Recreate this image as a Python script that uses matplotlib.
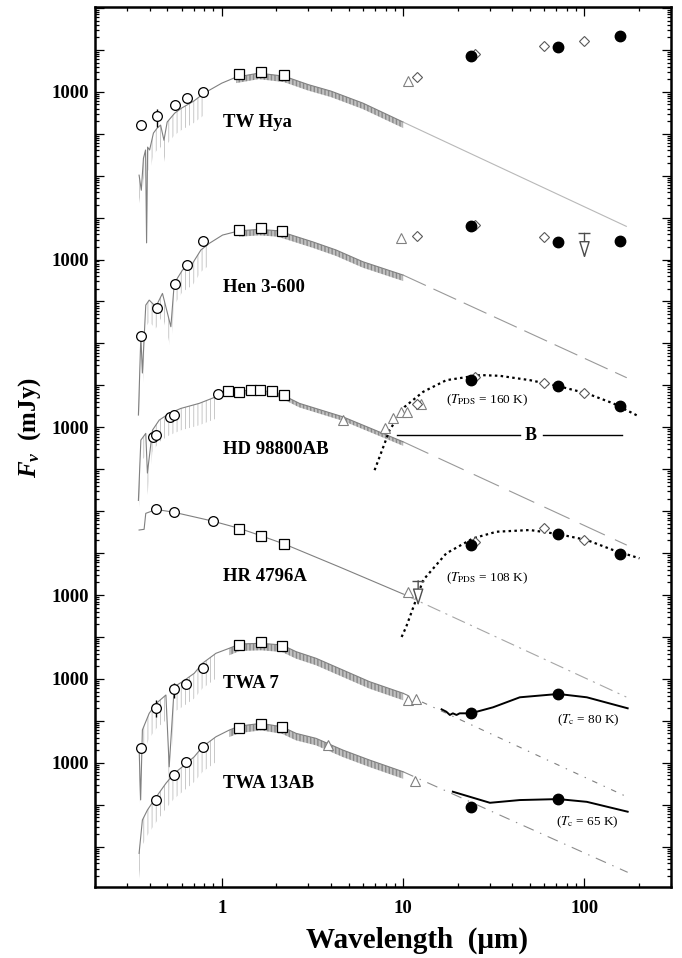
import numpy as np
import matplotlib as mpl
import matplotlib.pyplot as plt
from matplotlib.ticker import LogLocator, FuncFormatter, NullFormatter

mpl.rcParams.update({
    'font.family': 'Liberation Serif',
    'mathtext.fontset': 'custom',
    'mathtext.it': 'Liberation Serif:italic:bold',
    'mathtext.rm': 'Liberation Serif:bold',
    'mathtext.bf': 'Liberation Serif:bold',
    'lines.scale_dashes': False,
    'hatch.linewidth': 0.6,
})

### data (mJy, before the vertical offsets)
names = ['TW Hya', 'Hen 3-600', 'HD 98800AB', 'HR 4796A', 'TWA 7', 'TWA 13AB']
scale = [1, 1e-4, 1e-8, 1e-12, 1e-14, 1e-16]

# TW Hya
tw_spec_lam = [0.35, 0.36, 0.37, 0.38, 0.385, 0.39, 0.40, 0.42, 0.44, 0.46, 0.48, 0.50, 0.55, 0.6, 0.7, 0.8,
               1.0, 1.2, 1.6, 2.2, 3.0, 4.0, 6.0, 10.0, 170.0]
tw_spec_mjy = [10.3, 4.5, 26, 41, 0.25, 48, 41, 104, 136, 161, 70, 190, 310, 408, 600, 931,
               1610, 2240, 2790, 2370, 1485, 1040, 538, 190, 0.62]
tw_opt_lam = [0.36, 0.44, 0.55, 0.64, 0.79]
tw_opt_mjy = [158, 259, 474, 719, 984]
tw_nir_lam = [1.25, 1.65, 2.2]
tw_nir_mjy = [2600, 3000, 2500]
tw_tri_lam = [10.6]
tw_tri_mjy = [1800]
tw_dia_lam = [12, 25, 60, 100]
tw_dia_mjy = [2200, 7900, 12500, 15900]
tw_dot_lam = [23.6, 71.7, 156]
tw_dot_mjy = [7100, 11460, 21300]

# Hen 3-600
hen_spec_lam = [0.347, 0.358, 0.365, 0.381, 0.398, 0.433, 0.471, 0.524, 0.547, 0.607, 0.690, 0.767, 0.853,
                1.01, 1.25, 1.61, 2.04, 3.17, 4.27, 6.0, 10.0, 171]
hen_spec_mjy = [0.196, 15, 1.97, 82, 108, 75, 156, 25, 271, 562, 811, 1690, 2430,
                3840, 4860, 5250, 4860, 2650, 1690, 887, 427, 1.52]
hen_opt_lam = [0.36, 0.44, 0.55, 0.64, 0.79]
hen_opt_mjy = [15, 68.5, 256, 740, 2716]
hen_nir_lam = [1.25, 1.65, 2.15]
hen_nir_mjy = [5140, 5730, 4700]
hen_tri_lam = [9.7]
hen_tri_mjy = [3200]
hen_dia_lam = [12, 25, 60]
hen_dia_mjy = [3630, 6530, 3380]
hen_dot_lam = [23.6, 71.7, 156]
hen_dot_mjy = [6190, 2570, 2760]

# HD 98800AB
hd_spec_lam = [0.347, 0.358, 0.381, 0.389, 0.415, 0.452, 0.513, 0.595, 0.751, 0.929, 1.147, 1.545, 2.08,
               2.68, 4.65, 10.0, 171]
hd_spec_mjy = [18, 495, 716, 81, 857, 1485, 2140, 2820, 3720, 5340, 7020, 8010, 6430,
               3720, 1780, 451, 1.55]
hd_opt_lam = [0.42, 0.436, 0.518, 0.544, 0.948]
hd_opt_mjy = [593, 662, 1780, 1950, 6100]
hd_nir_lam = [1.077, 1.249, 1.443, 1.626, 1.894, 2.195]
hd_nir_mjy = [7290, 6790, 7590, 7710, 7180, 5770]
hd_tri_lam = [4.65, 7.9, 8.8, 9.7, 10.5, 12.6]
hd_tri_mjy = [1485, 942, 1690, 2340, 2340, 3570]
hd_dia_lam = [12, 25, 60, 100]
hd_dia_mjy = [3520, 15500, 11100, 6650]
hd_dot_lam = [23.6, 71.7, 156]
hd_dot_mjy = [13300, 9600, 3200]
hd_pds_lam = [6.96, 7.42, 8.42, 10.2, 12.9, 17.3, 26.5, 34.1, 50, 71.7, 103, 144, 198]
hd_pds_mjy = [95, 198, 858, 3080, 7020, 13300, 17600, 16900, 13300, 9600, 6430, 3720, 1850]

# HR 4796A
hr_spec_lam = [0.350, 0.373, 0.381, 0.436, 0.547, 0.889, 1.249, 1.647, 2.215, 4.46, 10.0, 170]
hr_spec_mjy = [35500, 36900, 88700, 110000, 93700, 58100, 38900, 25900, 16400, 4660, 1057, 3.7]
hr_opt_lam = [0.436, 0.547, 0.89]
hr_opt_mjy = [110000, 93700, 58100]
hr_nir_lam = [1.25, 1.65, 2.2]
hr_nir_mjy = [38100, 25500, 16400]
hr_tri_lam = [10.6]
hr_tri_mjy = [1160]
hr_dia_lam = [25, 60, 100]
hr_dia_mjy = [18700, 38900, 20500]
hr_dot_lam = [23.6, 71.7, 156]
hr_dot_mjy = [15600, 28400, 9500]
hr_pds_lam = [9.81, 10.4, 12.9, 17.3, 24.3, 32.7, 50, 71.7, 103, 144, 201]
hr_pds_mjy = [100, 175, 2280, 9860, 22500, 32300, 35500, 28400, 20500, 11800, 7500]

# TWA 7
tw7_spec_lam = [0.350, 0.357, 0.365, 0.398, 0.436, 0.492, 0.513, 0.547, 0.607, 0.705, 0.783, 0.929, 1.10,
                1.254, 1.647, 2.15, 2.57, 3.31, 4.65, 6.53, 10.0, 171]
tw7_spec_mjy = [24, 1.3, 60.5, 151, 262, 413, 8, 652, 858, 1360, 2360, 4080, 5370,
                6790, 7060, 6430, 4460, 3100, 1630, 858, 454, 1.55]
tw7_opt_lam = [0.358, 0.436, 0.547, 0.634, 0.783]
tw7_opt_mjy = [23, 206, 574, 743, 1850]
tw7_nir_lam = [1.25, 1.65, 2.15]
tw7_nir_mjy = [6320, 7460, 6080]
tw7_tri_lam = [10.6, 11.8]
tw7_tri_mjy = [314, 337]
tw7_dot_lam = [23.6, 71.7]
tw7_dot_mjy = [151, 437]
tw7_cold_lam = [16.3, 17.3, 18.1, 18.8, 19.7, 20.5, 23.6, 31.3, 44, 71.7, 103, 173]
tw7_cold_mjy = [188, 165, 138, 151, 138, 151, 151, 210, 364, 437, 364, 199]

# TWA 13AB
tw13_spec_lam = [0.350, 0.365, 0.389, 0.436, 0.492, 0.547, 0.607, 0.705, 0.783, 0.929, 1.10, 1.249,
                 1.647, 2.15, 2.57, 3.31, 4.65, 6.53, 10.0, 173]
tw13_spec_mjy = [6.9, 43, 74.5, 155, 323, 558, 804, 1390, 2400, 4170, 6020, 7500,
                 8690, 7210, 5020, 3820, 2010, 1160, 610, 2.44]
tw13_opt_lam = [0.436, 0.547, 0.634, 0.783]
tw13_opt_mjy = [127, 509, 1020, 2370]
tw13_nir_lam = [1.24, 1.65, 2.15]
tw13_nir_mjy = [6840, 8510, 6980]
tw13_tri_lam = [3.84, 11.6]
tw13_tri_mjy = [2600, 360]
tw13_dot_lam = [23.6, 71.7]
tw13_dot_mjy = [89, 136]
tw13_cold_lam = [18.8, 30.1, 44, 71.7, 103, 173]
tw13_cold_mjy = [204, 111, 129, 136, 117, 68]

# error bars (star index, wavelength, flux, low, high)
err_pts = [(0, 0.44, 259, 142, 380), (4, 0.436, 206, 125, 314), (4, 0.547, 574, 351, 798)]
# upper limits (star index, wavelength, flux)
upper_pts = [(1, 100, 4220), (3, 12.1, 2190)]

spec = [(tw_spec_lam, tw_spec_mjy), (hen_spec_lam, hen_spec_mjy), (hd_spec_lam, hd_spec_mjy),
        (hr_spec_lam, hr_spec_mjy), (tw7_spec_lam, tw7_spec_mjy), (tw13_spec_lam, tw13_spec_mjy)]
opt = [(tw_opt_lam, tw_opt_mjy), (hen_opt_lam, hen_opt_mjy), (hd_opt_lam, hd_opt_mjy),
       (hr_opt_lam, hr_opt_mjy), (tw7_opt_lam, tw7_opt_mjy), (tw13_opt_lam, tw13_opt_mjy)]
nir = [(tw_nir_lam, tw_nir_mjy), (hen_nir_lam, hen_nir_mjy), (hd_nir_lam, hd_nir_mjy),
       (hr_nir_lam, hr_nir_mjy), (tw7_nir_lam, tw7_nir_mjy), (tw13_nir_lam, tw13_nir_mjy)]
tri = [(tw_tri_lam, tw_tri_mjy), (hen_tri_lam, hen_tri_mjy), (hd_tri_lam, hd_tri_mjy),
       (hr_tri_lam, hr_tri_mjy), (tw7_tri_lam, tw7_tri_mjy), (tw13_tri_lam, tw13_tri_mjy)]
dia = [(tw_dia_lam, tw_dia_mjy), (hen_dia_lam, hen_dia_mjy), (hd_dia_lam, hd_dia_mjy),
       (hr_dia_lam, hr_dia_mjy), ([], []), ([], [])]
dots = [(tw_dot_lam, tw_dot_mjy), (hen_dot_lam, hen_dot_mjy), (hd_dot_lam, hd_dot_mjy),
        (hr_dot_lam, hr_dot_mjy), (tw7_dot_lam, tw7_dot_mjy), (tw13_dot_lam, tw13_dot_mjy)]

### styles
forest_depth = [0.72, 0.72, 0.8, None, 0.68, 0.68]
blue_depth = [0.3, 0.3, 0.3, None, 0.25, 0.25]
tail_style = [
    dict(color='0.72', lw=0.8, ls='-'),
    dict(color='0.6', lw=0.8, dashes=(18, 6)),
    dict(color='0.6', lw=0.8, dashes=(20, 8)),
    dict(color='0.65', lw=0.8, dashes=(10, 4, 1.5, 4)),
    dict(color='0.5', lw=0.8, dashes=(4, 5, 1, 5)),
    dict(color='0.55', lw=0.8, dashes=(8, 5, 1, 5)),
]

fig = plt.figure(figsize=(6.82, 9.58), dpi=100)
ax = fig.add_axes([0.1393, 0.0738, 0.8446, 0.9192])
ax.set_xscale('log')
ax.set_yscale('log')

for i in range(6):
    s = scale[i]
    lam = np.array(spec[i][0])
    f = np.array(spec[i][1]) * s
    main = lam <= 10
    tail = lam >= 10
    ax.plot(lam[main], f[main], color='0.5', lw=0.8, zorder=2)
    ax.plot(lam[tail], f[tail], zorder=2, **tail_style[i])
    if forest_depth[i] is not None:
        m = (lam >= 1.1) & (lam <= 10)
        ax.fill_between(lam[m], f[m], f[m] * forest_depth[i], facecolor='none',
                        edgecolor='0.45', hatch='||||||||||||', linewidth=0, zorder=1)
        m = lam <= 0.95
        ax.fill_between(lam[m], f[m], f[m] * blue_depth[i], facecolor='none',
                        edgecolor='0.75', hatch='||||', linewidth=0, zorder=1)

    ax.plot(tri[i][0], np.array(tri[i][1]) * s, ls='none', marker='^', ms=6.5,
            mfc='white', mec='0.5', mew=0.8, zorder=4)
    if len(dia[i][0]):
        ax.plot(dia[i][0], np.array(dia[i][1]) * s, ls='none', marker='D', ms=5,
                mfc='white', mec='0.35', mew=0.8, zorder=4)
    ax.plot(opt[i][0], np.array(opt[i][1]) * s, ls='none', marker='o', ms=7,
            mfc='white', mec='k', mew=0.9, zorder=5)
    ax.plot(nir[i][0], np.array(nir[i][1]) * s, ls='none', marker='s', ms=7,
            mfc='white', mec='k', mew=0.9, zorder=5)
    ax.plot(dots[i][0], np.array(dots[i][1]) * s, ls='none', marker='o', ms=7.5,
            mfc='k', mec='k', zorder=5)

# warm / cold dust models
ax.plot(hd_pds_lam, np.array(hd_pds_mjy) * scale[2], color='k', lw=1.6, dashes=(1.8, 2.4), zorder=3)
ax.plot(hr_pds_lam, np.array(hr_pds_mjy) * scale[3], color='k', lw=1.6, dashes=(1.8, 2.4), zorder=3)
ax.plot(tw7_cold_lam, np.array(tw7_cold_mjy) * scale[4], color='k', lw=1.4, zorder=3)
ax.plot(tw13_cold_lam, np.array(tw13_cold_mjy) * scale[5], color='k', lw=1.4, zorder=3)

for i, x, y, lo, hi in err_pts:
    s = scale[i]
    ax.errorbar([x], [y * s], yerr=[[(y - lo) * s], [(hi - y) * s]], fmt='none',
                ecolor='k', elinewidth=1, capsize=0, zorder=4)

for i, x, y in upper_pts:
    s = scale[i]
    ax.plot([x], [y * s], marker='_', ms=8, mew=1, color='0.3', zorder=4)
    ax.annotate('', xy=(x, y * s * 0.25), xytext=(x, y * s),
                arrowprops=dict(arrowstyle='-|>,head_length=0.7,head_width=0.22',
                                fc='white', ec='0.3', lw=1, shrinkA=0, shrinkB=0,
                                mutation_scale=15), zorder=4)

# axes
ax.set_xlim(0.2, 300)
ax.set_ylim(10 ** -15.97, 10 ** 5.03)
ax.yaxis.set_major_locator(LogLocator(base=10, numticks=60))
ax.yaxis.set_minor_locator(LogLocator(base=10, subs=np.arange(2, 10), numticks=60))
label_exp = [3, -1, -5, -9, -11, -13]
ax.yaxis.set_major_formatter(FuncFormatter(
    lambda v, p: '1000' if int(round(np.log10(v))) in label_exp else ''))
ax.yaxis.set_minor_formatter(NullFormatter())
ax.xaxis.set_major_locator(LogLocator(base=10, numticks=20))
ax.xaxis.set_minor_locator(LogLocator(base=10, subs=np.arange(2, 10), numticks=20))
ax.xaxis.set_major_formatter(FuncFormatter(lambda v, p: '%g' % v))
ax.xaxis.set_minor_formatter(NullFormatter())

ax.tick_params(which='both', direction='in', top=True, right=True, width=0.9)
ax.tick_params(which='major', length=6.5)
ax.tick_params(which='minor', length=3.2)
ax.tick_params(axis='x', pad=9)
ax.tick_params(axis='y', pad=4.5)
for lab in ax.get_xticklabels() + ax.get_yticklabels():
    lab.set_fontsize(13.5)
    lab.set_fontweight('bold')
for sp in ax.spines.values():
    sp.set_linewidth(1.8)

# star names
name_y = [0.8683, 0.6814, 0.4966, 0.3535, 0.2309, 0.1181]
for n, yy in zip(names, name_y):
    ax.text(0.2222, yy, n, transform=ax.transAxes, fontsize=13.5, fontweight='bold',
            ha='left', va='center')

tkw = dict(transform=ax.transAxes, fontsize=9.5, ha='center', va='center', math_fontfamily='stix')
ax.text(0.6806, 0.5534, r'($T_{\rm PDS}$ = 160 K)', **tkw)
ax.text(0.6806, 0.3512, r'($T_{\rm PDS}$ = 108 K)', **tkw)
ax.text(0.8559, 0.1900, r'($T_{\rm c}$ = 80 K)', **tkw)
ax.text(0.8542, 0.0741, r'($T_{\rm c}$ = 65 K)', **tkw)

# HD 98800 B marker
ax.plot([0.5243, 0.7378], [0.5136, 0.5136], color='k', lw=1, transform=ax.transAxes)
ax.plot([0.7778, 0.9149], [0.5136, 0.5136], color='k', lw=1, transform=ax.transAxes)
ax.text(0.7569, 0.5136, 'B', transform=ax.transAxes, fontsize=13, fontweight='bold',
        ha='center', va='center')

fig.text(417.5 / 682, 1 - 940 / 958, 'Wavelength  (\u03bcm)', fontsize=21, fontweight='bold',
         ha='center', va='center')
fig.text(30 / 682, 1 - 428 / 958, r'$F_{\nu}$  (mJy)', fontsize=18, fontweight='bold',
         rotation=90, ha='center', va='center', math_fontfamily='custom')

fig.savefig('out.png', dpi=100)
